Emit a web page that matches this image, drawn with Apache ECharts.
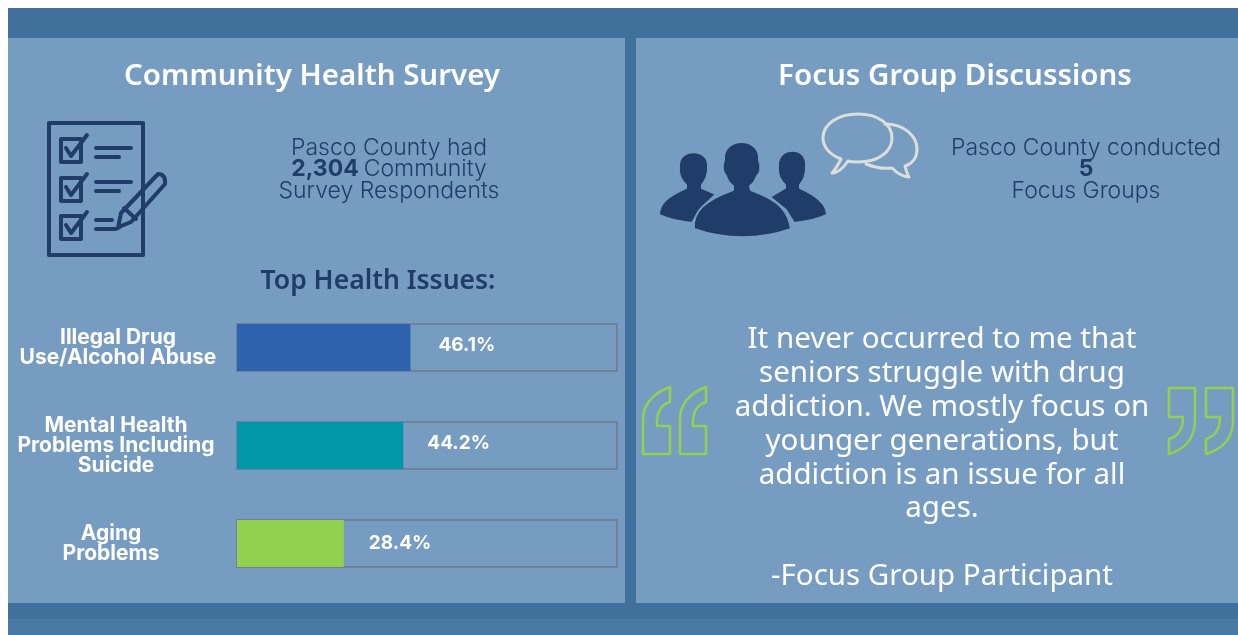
<!DOCTYPE html>
<html>
<head>
<meta charset="utf-8">
<title>Community Health Survey</title>
<script src="https://cdn.jsdelivr.net/npm/echarts@6/dist/echarts.min.js"></script>
<style>
html, body { margin: 0; padding: 0; background: #fff; }
#main { width: 1238px; height: 635px; }
</style>
</head>
<body>
<div id="main"></div>
<script>
// data
var issues = ['Illegal Drug\nUse/Alcohol Abuse', 'Mental Health\nProblems Including\nSuicide', 'Aging\nProblems'];
var issueValues = [46.1, 44.2, 28.4];
var issueColors = ['#2d62ad', '#0097a9', '#92d050'];
var quoteLines = ['It never occurred to me that', 'seniors struggle with drug', 'addiction. We mostly focus on', 'younger generations, but', 'addiction is an issue for all', 'ages.', '', '-Focus Group Participant'];

// the labels are not lined up the same way on each row
var labelGaps = [28, 24, 25];
var labelRises = [-2, -2, 0];
var namePads = [[0, 0, 10, 4], [0, 0, 10, 0], [0, 10, 10, 0]];

var NAVY = '#1f3d68';
var PANEL = '#779cc1';
var BAND = '#41709c';
var HEAD = '"Noto Sans", sans-serif';
var BODY = 'Inter, sans-serif';

var myChart = echarts.init(document.getElementById('main'));

function box(x, y, w, h, fill) {
	return { type: 'rect', shape: { x: x, y: y, width: w, height: h }, style: { fill: fill } };
}
function pathAt(d, color, width, fill) {
	return {
		type: 'path',
		shape: { pathData: d },
		style: { fill: fill || 'none', stroke: color, lineWidth: width, lineJoin: 'round', lineCap: 'round' }
	};
}

// icons
var clipboard = [
	'M49,123 L143,123 L143,255 L49,255 Z',
	'M61,139 L81,139 L81,162 L61,162 Z M66,148 L71,156 L87,135',
	'M61,178 L81,178 L81,201 L61,201 Z M66,187 L71,195 L87,174',
	'M61,216 L81,216 L81,239 L61,239 Z M66,225 L71,233 L87,212',
	'M96,148 L131,148 M96,157 L119,157',
	'M96,182 L131,182 M96,191 L119,191',
	'M96,220 L112,220 M96,229 L116,229',
	'M158,174 Q166,174 165,184 L131,222 L121,226 L118,228 L121,213 Z M124,208 L136,219'
];
var people = [
	// left, right and middle figures
	'M679,165 C679,148 708,148 708,165 C709,176 705,181 702,185 L702,188 L716,194 L700,210 L692,223 C680,222 668,219 659,215 C659,203 668,196 686,188 L686,185 C682,181 678,176 679,165 Z',
	'M778,165 C778,146 807,146 806,165 C807,176 803,181 800,185 L800,188 C816,195 827,204 827,215 C818,219 806,222 794,223 L786,210 L770,197 L785,188 L785,185 C781,181 777,176 778,165 Z',
	'M724,160 C722,136 761,136 759,160 C762,168 760,174 757,176 C755,181 753,184 750,186 L751,190 C772,198 786,206 790,224 L791,229 C760,240 725,240 694,229 C692,212 705,200 733,190 L733,186 C729,183 727,180 726,176 C722,172 722,166 724,160 Z'
];
var bubbles = [
	'M858,114 C878,114 892,124 892,138 C892,152 878,162 858,162 C854,162 851,162 848,161 C844,167 838,173 832,173 C836,169 838,165 841,159 C830,155 823,147 823,138 C823,124 838,114 858,114 Z',
	'M885,124 C904,124 917,136 917,149 C917,158 912,164 905,166 C906,170 907,174 909,177 C902,177 897,173 892,168 C884,169 876,168 866,164'
];
var quoteMarks = [
	'M670,387 Q643,397 643,420 L643,454 L670,454 L670,426 L657,426 Q656,406 670,402 Z',
	'M706,387 Q680,397 680,420 L680,454 L706,454 L706,426 L693,426 Q692,406 706,402 Z',
	'M1169,388 L1195,388 L1195,420 Q1195,446 1169,454 L1169,439 Q1183,435 1183,417 L1169,417 Z',
	'M1206,388 L1233,388 L1233,420 Q1233,446 1206,454 L1206,439 Q1220,435 1220,417 L1206,417 Z'
];

var panels = [
	box(8, 8, 1230, 30, BAND),
	box(8, 38, 617, 565, PANEL),
	box(625, 38, 11, 565, BAND),
	box(636, 38, 602, 565, PANEL),
	box(8, 603, 1230, 16, BAND),
	box(8, 619, 1230, 16, '#4a78a4')
];

var iconParts = [];
clipboard.forEach(function(d) { iconParts.push(pathAt(d, NAVY, 4)); });
people.forEach(function(d) { iconParts.push(pathAt(d, PANEL, 2, NAVY)); });
bubbles.forEach(function(d) { iconParts.push(pathAt(d, '#dcdedc', 3)); });
quoteMarks.forEach(function(d) { iconParts.push(pathAt(d, '#92d050', 2.5)); });

function heading(text, x, y, size, color) {
	return { text: text, left: x, top: y, textAlign: 'center', padding: 0, textStyle: { color: color, fontFamily: HEAD, fontWeight: 600, fontSize: size } };
}
function blurb(text, x, y) {
	return {
		text: text, left: x, top: y, textAlign: 'center', padding: 0,
		textStyle: {
			rich: {
				n: { color: NAVY, fontFamily: BODY, fontWeight: 300, fontSize: 23, lineHeight: 21.5 },
				b: { color: NAVY, fontFamily: BODY, fontWeight: 700, fontSize: 23, lineHeight: 21.5 }
			}
		}
	};
}

var option = {
	animation: false,
	backgroundColor: '#fff',
	title: [
		heading('Community Health Survey', 312, 62, 29.5, '#fff'),
		heading('Focus Group Discussions', 955, 62, 29.5, '#fff'),
		heading('Top Health Issues:', 378, 268, 26.5, NAVY),
		blurb('{n|Pasco County had}\n{b|2,304} {n|Community}\n{n|Survey Respondents}', 389, 137),
		blurb('{n|Pasco County conducted}\n{b|5}\n{n|Focus Groups}', 1086, 137),
		{
			text: quoteLines.join('\n'), left: 942, top: 323, textAlign: 'center', padding: 0,
			textStyle: { color: '#fff', fontFamily: HEAD, fontWeight: 400, fontSize: 29.5, lineHeight: 33.8 }
		}
	],
	graphic: panels,
	grid: { left: 237, top: 298.5, width: 380, height: 294, outerBoundsMode: 'none' },
	xAxis: { type: 'value', min: 0, max: 101, show: false },
	yAxis: {
		type: 'category',
		inverse: true,
		data: issues.map(function(name, i) {
			return { value: name, textStyle: { align: 'center', padding: namePads[i] } };
		}),
		axisLine: { show: false },
		axisTick: { show: false },
		axisLabel: {
			align: 'center',
			margin: 121,
			color: '#fff',
			fontFamily: BODY,
			fontWeight: 700,
			fontSize: 21,
			lineHeight: 20
		}
	},
	series: [{
		type: 'bar',
		barWidth: 47,
		showBackground: true,
		backgroundStyle: { color: 'rgba(0,0,0,0)', borderColor: '#6f8299', borderWidth: 2 },
		data: issueValues.map(function(v, i) {
			return {
				value: v,
				itemStyle: { color: issueColors[i] },
				label: {
					show: true,
					position: 'right',
					distance: labelGaps[i],
					offset: [0, labelRises[i]],
					formatter: v + '%',
					color: '#fff',
					fontFamily: BODY,
					fontWeight: 700,
					fontSize: 19
				}
			};
		})
	}, {
		// clipboard, people, bubbles and quote marks
		type: 'custom',
		coordinateSystem: 'none',
		silent: true,
		data: [0],
		renderItem: function() {
			return { type: 'group', children: iconParts };
		}
	}]
};

myChart.setOption(option);
</script>
</body>
</html>
